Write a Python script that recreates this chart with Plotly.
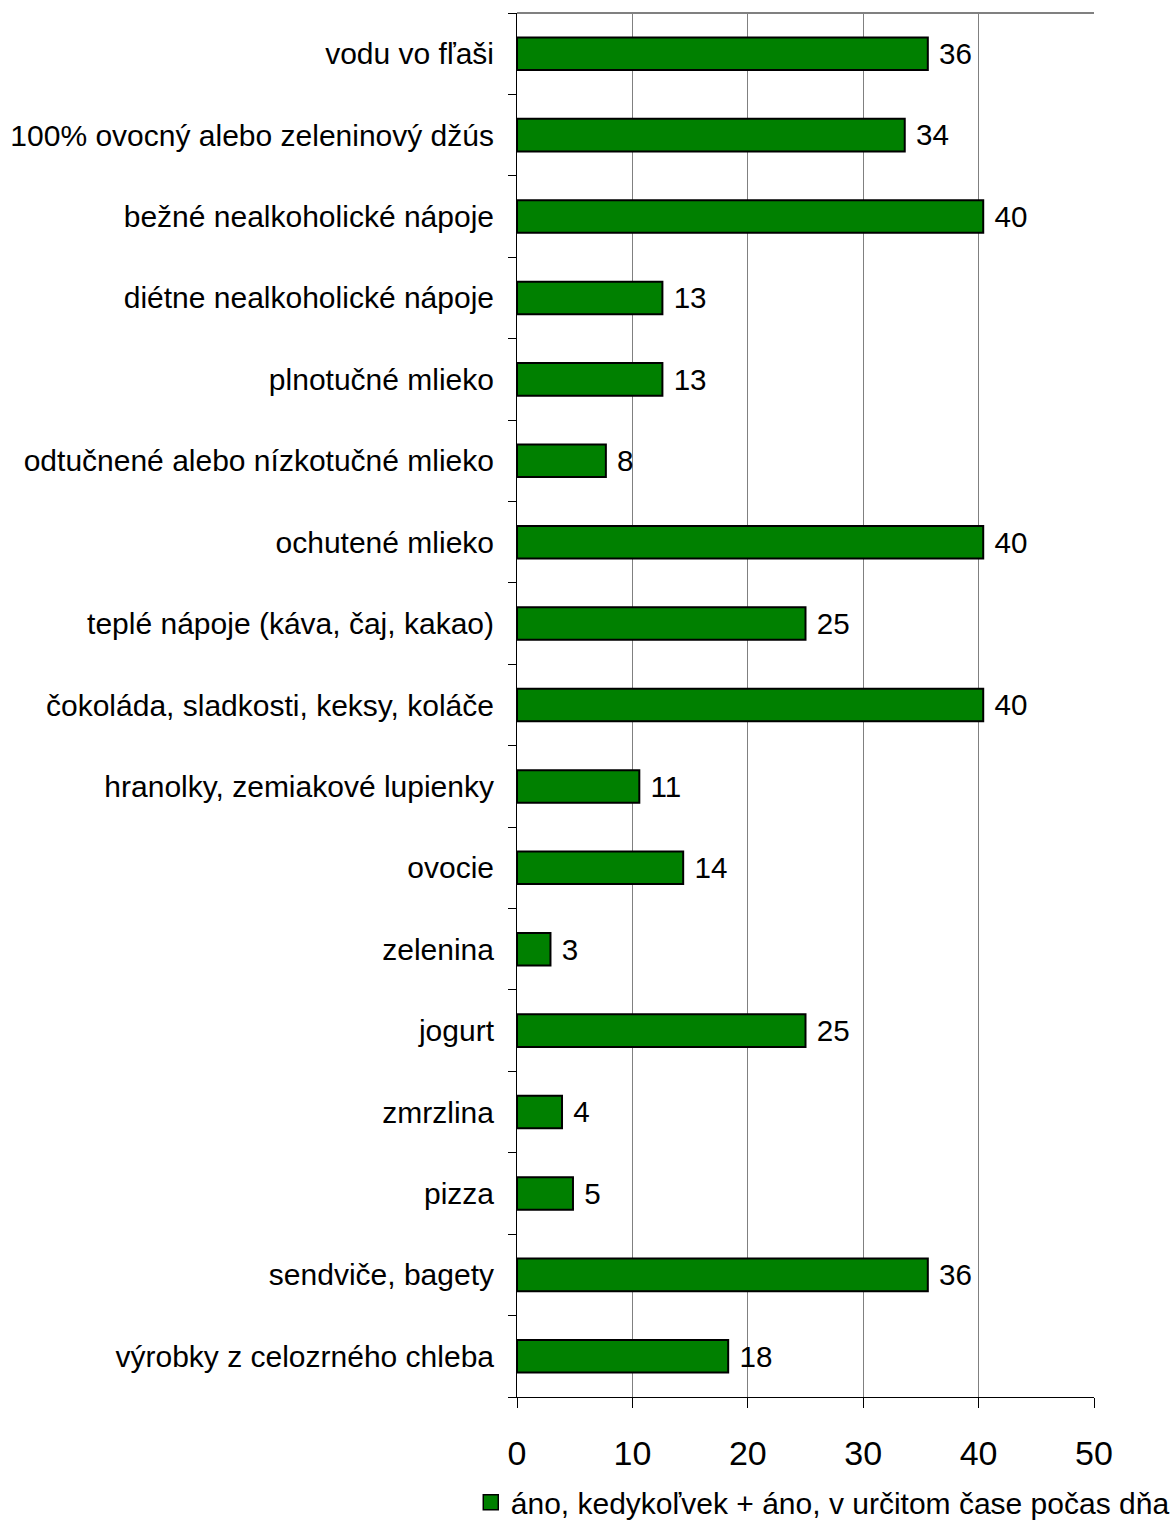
import plotly.graph_objects as go

categories = [
    "vodu vo fľaši",
    "100% ovocný alebo zeleninový džús",
    "bežné nealkoholické nápoje",
    "diétne nealkoholické nápoje",
    "plnotučné mlieko",
    "odtučnené alebo nízkotučné mlieko",
    "ochutené mlieko",
    "teplé nápoje (káva, čaj, kakao)",
    "čokoláda, sladkosti, keksy, koláče",
    "hranolky, zemiakové lupienky",
    "ovocie",
    "zelenina",
    "jogurt",
    "zmrzlina",
    "pizza",
    "sendviče, bagety",
    "výrobky z celozrného chleba",
]
values = [35.6, 33.6, 40.4, 12.6, 12.6, 7.7, 40.4, 25.0, 40.4, 10.6, 14.4, 2.9, 25.0, 3.9, 4.85, 35.6, 18.3]
labels = ["36", "34", "40", "13", "13", "8", "40", "25", "40", "11", "14", "3", "25", "4", "5", "36", "18"]
series_name = "áno, kedykoľvek + áno, v určitom čase počas dňa"
x_ticks = [0, 10, 20, 30, 40, 50]

FONT = "Liberation Sans, Arial, sans-serif"
GREEN = "#008000"

fig = go.Figure()
fig.add_trace(go.Bar(
    y=categories,
    x=values,
    orientation="h",
    name=series_name,
    marker=dict(color=GREEN, line=dict(color="black", width=2)),
    width=0.4,
    text=[" " + t for t in labels],
    textposition="outside",
    textfont=dict(family=FONT, size=30, color="black"),
    cliponaxis=False,
    showlegend=False,
))
# legend entry (square swatch like the original)
fig.add_trace(go.Scatter(
    x=[None], y=[None],
    mode="markers",
    name=series_name,
    marker=dict(symbol="square", size=15, color=GREEN, line=dict(color="black", width=1.5)),
    showlegend=True,
))

fig.update_layout(
    width=1171,
    height=1531,
    margin=dict(l=517, r=77, t=13, b=134, autoexpand=False),
    plot_bgcolor="white",
    paper_bgcolor="white",
    font=dict(family=FONT, color="black"),
    showlegend=True,
    legend=dict(
        orientation="h",
        x=1.14, xanchor="right",
        y=-0.076, yanchor="middle",
        font=dict(family=FONT, size=30, color="black"),
        itemwidth=30,
        bgcolor="rgba(0,0,0,0)",
    ),
    bargap=0.6,
)

fig.update_xaxes(
    range=[0, 50],
    tickvals=x_ticks,
    ticktext=[str(v) for v in x_ticks],
    ticks="outside",
    ticklen=10,
    tickcolor="black",
    tickfont=dict(family=FONT, size=34, color="black"),
    ticklabelstandoff=16,
    showgrid=True,
    gridcolor="#808080",
    gridwidth=1,
    showline=True,
    linecolor="black",
    linewidth=1,
    mirror=False,
    zeroline=False,
)

fig.update_yaxes(
    categoryorder="array",
    categoryarray=categories[::-1],
    autorange=False,
    range=[-0.5, len(categories) - 0.5],
    ticks="outside",
    tickson="boundaries",
    ticklen=8,
    tickcolor="black",
    tickfont=dict(family=FONT, size=30, color="black"),
    ticklabelstandoff=16,
    showgrid=False,
    showline=True,
    linecolor="black",
    linewidth=1,
    zeroline=False,
)

# top border of the plot area (gray)
fig.add_shape(type="line", xref="paper", yref="paper", x0=0, x1=1, y0=1, y1=1,
              line=dict(color="#808080", width=2))

fig.write_html("out.html")
